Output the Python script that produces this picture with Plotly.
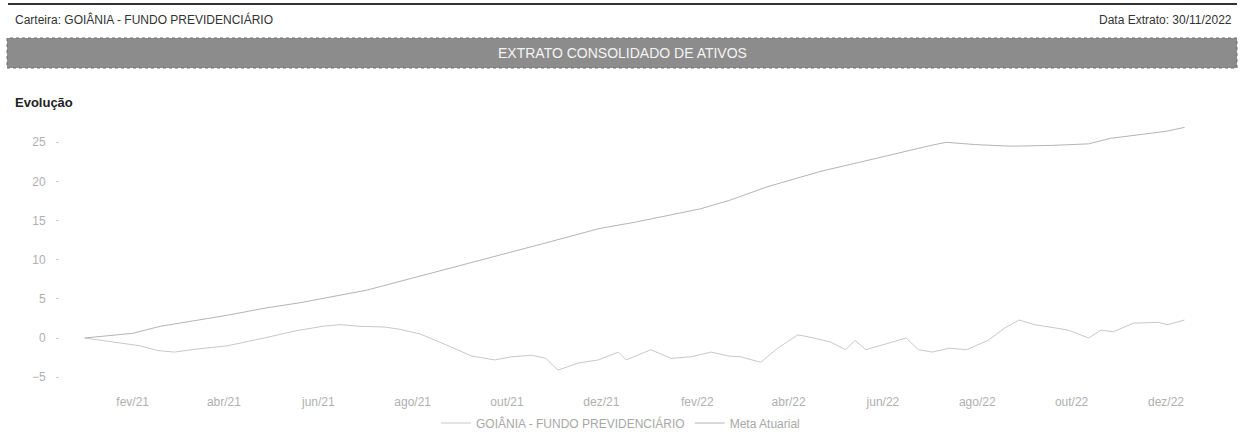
import plotly.graph_objects as go

# ---- data ----
fundo_dates = [
    "2021-01-01", "2021-01-20", "2021-02-06", "2021-02-17", "2021-02-28", "2021-03-15",
    "2021-04-03", "2021-04-27", "2021-05-17", "2021-06-04", "2021-06-15", "2021-06-28",
    "2021-07-14", "2021-07-24", "2021-08-06", "2021-08-23", "2021-09-08", "2021-09-23",
    "2021-10-04", "2021-10-17", "2021-10-26", "2021-11-03", "2021-11-16", "2021-11-29",
    "2021-12-12", "2021-12-17", "2022-01-02", "2022-01-15", "2022-01-28", "2022-02-10",
    "2022-02-21", "2022-03-01", "2022-03-14", "2022-03-25", "2022-04-07", "2022-04-15",
    "2022-04-28", "2022-05-08", "2022-05-14", "2022-05-21", "2022-06-01", "2022-06-16",
    "2022-06-24", "2022-07-03", "2022-07-14", "2022-07-25", "2022-08-08", "2022-08-19",
    "2022-08-28", "2022-09-07", "2022-09-20", "2022-09-29", "2022-10-12", "2022-10-20",
    "2022-10-28", "2022-11-10", "2022-11-26", "2022-12-02", "2022-12-13",
]
fundo_vals = [
    0.0, -0.5, -1.0, -1.6, -1.8, -1.4,
    -1.0, 0.0, 0.9, 1.5, 1.7, 1.5,
    1.4, 1.1, 0.5, -0.9, -2.3, -2.8,
    -2.4, -2.2, -2.6, -4.1, -3.2, -2.8,
    -1.8, -2.8, -1.5, -2.6, -2.4, -1.8,
    -2.3, -2.4, -3.1, -1.3, 0.4, 0.1,
    -0.5, -1.5, -0.3, -1.5, -0.9, 0.0,
    -1.5, -1.8, -1.3, -1.5, -0.3, 1.3,
    2.3, 1.7, 1.3, 1.0, 0.0, 1.0,
    0.8, 1.9, 2.0, 1.7, 2.3,
]

meta_dates = [
    "2021-01-01", "2021-02-01", "2021-02-19", "2021-04-03", "2021-04-27", "2021-05-20",
    "2021-07-02", "2021-08-04", "2021-08-22", "2021-09-27", "2021-10-29", "2021-11-30",
    "2021-12-23", "2022-02-03", "2022-02-22", "2022-03-18", "2022-04-09", "2022-04-22",
    "2022-05-18", "2022-06-12", "2022-07-02", "2022-07-12", "2022-07-31", "2022-08-23",
    "2022-09-18", "2022-10-12", "2022-10-26", "2022-11-15", "2022-12-01", "2022-12-13",
]
meta_vals = [
    0.0, 0.6, 1.5, 2.9, 3.8, 4.5,
    6.1, 7.8, 8.7, 10.6, 12.3, 14.0,
    14.8, 16.5, 17.6, 19.3, 20.6, 21.3,
    22.5, 23.7, 24.6, 25.0, 24.7, 24.5,
    24.6, 24.8, 25.5, 26.0, 26.4, 26.9,
]

tick_dates = ["2021-02-01", "2021-04-01", "2021-06-01", "2021-08-01", "2021-10-01",
              "2021-12-01", "2022-02-01", "2022-04-01", "2022-06-01", "2022-08-01",
              "2022-10-01", "2022-12-01"]
tick_labels = ["fev/21", "abr/21", "jun/21", "ago/21", "out/21", "dez/21",
               "fev/22", "abr/22", "jun/22", "ago/22", "out/22", "dez/22"]
y_ticks = [-5, 0, 5, 10, 15, 20, 25]

series_names = ["GOIÂNIA - FUNDO PREVIDENCIÁRIO", "Meta Atuarial"]

FONT = "Liberation Sans, Arial, sans-serif"

fig = go.Figure()
fig.add_trace(go.Scatter(x=fundo_dates, y=fundo_vals, mode="lines", name=series_names[0],
                         line=dict(color="#c8c8c8", width=1)))
fig.add_trace(go.Scatter(x=meta_dates, y=meta_vals, mode="lines", name=series_names[1],
                         line=dict(color="#b4b4b4", width=1)))

H = 439.0
def py(px):
    return 1 - px / H

fig.update_layout(
    width=1241, height=439,
    margin=dict(l=0, r=0, t=0, b=0),
    paper_bgcolor="white", plot_bgcolor="white",
    font=dict(family=FONT, size=12, color="#aaaaaa"),
    showlegend=True,
    legend=dict(orientation="h", x=0.5, xanchor="center", y=py(423), yanchor="middle",
                font=dict(size=12, color="#a8a8a8"), bgcolor="rgba(0,0,0,0)",
                itemwidth=30, tracegroupgap=0),
    xaxis=dict(domain=[60 / 1241, 1200 / 1241], type="date",
               range=["2020-12-16", "2022-12-23"],
               tickvals=tick_dates, ticktext=tick_labels,
               showgrid=False, zeroline=False, showline=False, ticks="",
               tickfont=dict(size=12, color="#b0b0b0")),
    yaxis=dict(domain=[py(392.8), py(118.8)], range=[-7, 28],
               tickvals=y_ticks, showgrid=False, zeroline=False, showline=False,
               ticks="outside", ticklen=3, tickcolor="#cccccc",
               ticklabelstandoff=8,
               tickfont=dict(size=12, color="#b0b0b0")),
    shapes=[
        dict(type="line", xref="paper", yref="paper", x0=8 / 1241, x1=1237 / 1241,
             y0=py(4), y1=py(4), line=dict(color="#333333", width=2)),
        dict(type="rect", xref="paper", yref="paper", x0=7 / 1241, x1=1237 / 1241,
             y0=py(68), y1=py(38), fillcolor="#8c8c8c",
             line=dict(color="#6e6e6e", width=1, dash="dot")),
    ],
    annotations=[
        dict(text="Carteira: GOIÂNIA - FUNDO PREVIDENCIÁRIO", xref="paper", yref="paper",
             x=13 / 1241, y=py(20), xanchor="left", yanchor="middle", showarrow=False,
             font=dict(size=12, color="#333333", family=FONT)),
        dict(text="Data Extrato: 30/11/2022", xref="paper", yref="paper",
             x=1234 / 1241, y=py(20), xanchor="right", yanchor="middle", showarrow=False,
             font=dict(size=12, color="#333333", family=FONT)),
        dict(text="EXTRATO CONSOLIDADO DE ATIVOS", xref="paper", yref="paper",
             x=622 / 1241, y=py(53), xanchor="center", yanchor="middle", showarrow=False,
             font=dict(size=14, color="#f4f4f4", family=FONT)),
        dict(text="<b>Evolução</b>", xref="paper", yref="paper",
             x=13 / 1241, y=py(102), xanchor="left", yanchor="middle", showarrow=False,
             font=dict(size=13, color="#222222", family=FONT)),
    ],
)

fig.write_html("out.html", config={"displayModeBar": False},
               post_script="document.body.style.margin='0';document.body.style.overflow='hidden';")
